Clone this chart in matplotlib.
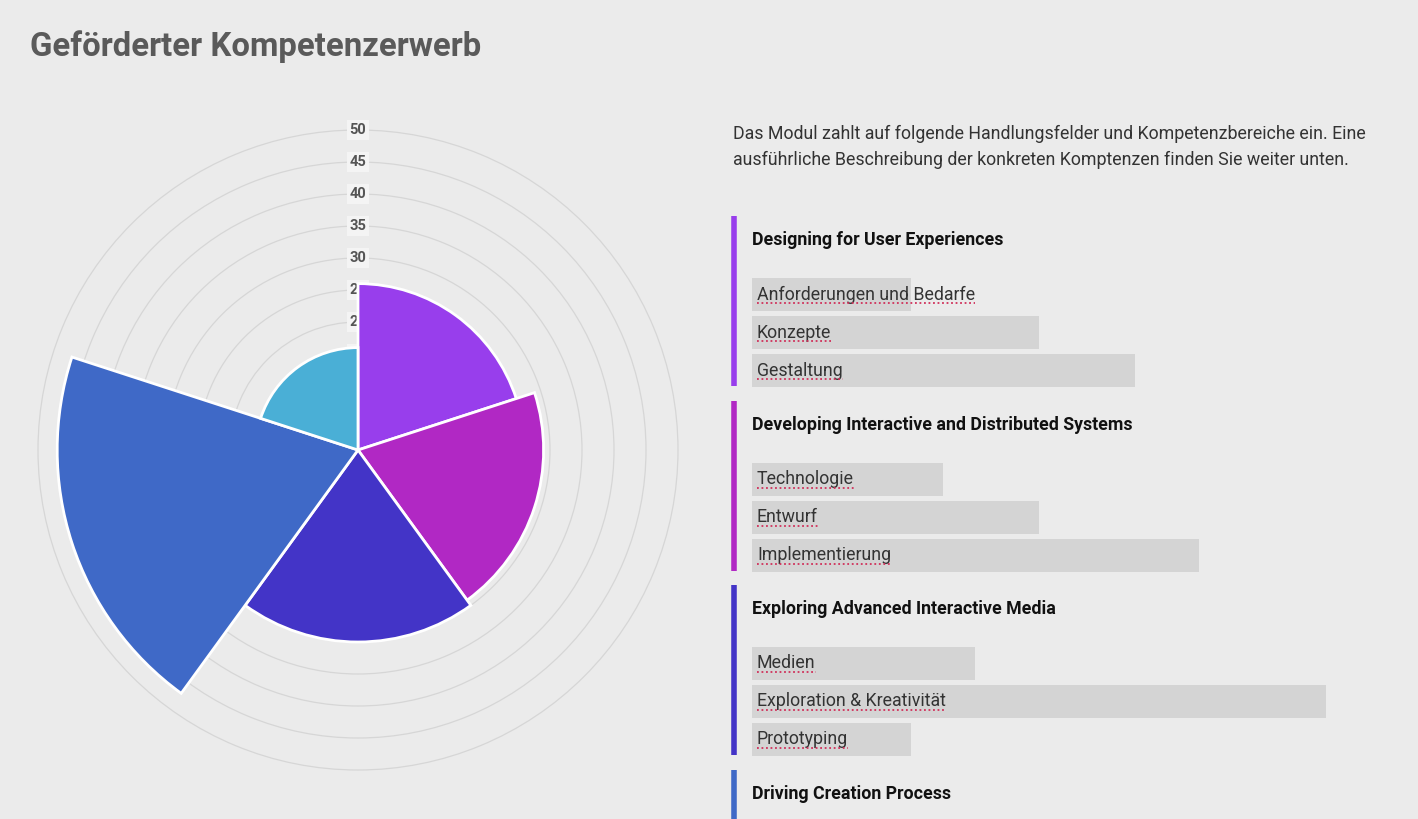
import numpy as np
import matplotlib.pyplot as plt
from matplotlib.lines import Line2D

W, H = 1418, 819
BG = '#ebebeb'

# polar area values (one per Handlungsfeld, clockwise from top)
field_values = [26, 29, 30, 47, 16]
field_colors = ['#983eec', '#b128c4', '#4334c7', '#3f69c7', '#4aafd6']
ring_ticks = [5, 10, 15, 20, 25, 30, 35, 40, 45, 50]

# right panel: groups and their competences
group_titles = ['Designing for User Experiences',
                'Developing Interactive and Distributed Systems',
                'Exploring Advanced Interactive Media',
                'Driving Creation Process']
group_items = [['Anforderungen und Bedarfe', 'Konzepte', 'Gestaltung'],
               ['Technologie', 'Entwurf', 'Implementierung'],
               ['Medien', 'Exploration & Kreativität', 'Prototyping'],
               []]
group_values = [[5, 9, 12],
                [6, 9, 14],
                [7, 18, 5],
                []]

title = 'Geförderter Kompetenzerwerb'
intro = ('Das Modul zahlt auf folgende Handlungsfelder und Kompetenzbereiche ein. Eine\n'
         'ausführliche Beschreibung der konkreten Komptenzen finden Sie weiter unten.')

plt.rcParams['font.family'] = ['Roboto', 'DejaVu Sans']

fig = plt.figure(figsize=(W / 100, H / 100), dpi=100, facecolor=BG)

# --- polar area chart ---
cx, cy = 358, 450
RMAX = 50.4
R = 320 * RMAX / 50  # px radius of the axes so that 50 sits at 320 px
ax = fig.add_axes([(cx - R) / W, (H - cy - R) / H, 2 * R / W, 2 * R / H],
                  projection='polar')
ax.set_facecolor('none')
ax.set_theta_zero_location('N')
ax.set_theta_direction(-1)
n = len(field_values)
width = 2 * np.pi / n
theta = np.arange(n) * width
ax.bar(theta, field_values, width=width, align='edge', color=field_colors,
       edgecolor='white', linewidth=2, zorder=5)
ax.set_ylim(0, RMAX)
ax.set_rgrids(ring_ticks, labels=[''] * len(ring_ticks))
ax.set_thetagrids([])
ax.grid(True, color='#d6d6d6', linewidth=0.9)
ax.xaxis.grid(False)
ax.set_axisbelow(True)
ax.spines['polar'].set_visible(False)
for t in ring_ticks:
    ax.text(0, t, str(t), ha='center', va='center', fontsize=10.5,
            fontweight='bold', color='#555555', zorder=2,
            bbox=dict(boxstyle='square,pad=0.2', fc='#f4f4f4', ec='none'))

# --- title ---
fig.text(30 / W, 1 - 47 / H, title, fontsize=23.7, fontweight='bold',
         color='#5a5a5a', ha='left', va='center')

# --- intro text ---
fig.text(733 / W, 1 - 147 / H, intro, fontsize=12.8, color='#333333',
         ha='left', va='center', linespacing=1.6)

# --- right panel ---
UNIT = 31.9  # px per competence point
x0 = 752
axr = fig.add_axes([x0 / W, 0, (W - x0) / W, 1])
axr.set_xlim(0, (W - x0) / UNIT)
axr.set_ylim(H, 0)
axr.axis('off')

group_top = [216, 401, 585, 770]
row_h, row_gap = 33, 38
accent_x = (734.5 - x0) / UNIT
fig.canvas.draw()
renderer = fig.canvas.get_renderer()
for g, gtitle in enumerate(group_titles):
    top = group_top[g]
    bottom = top + 170 if group_items[g] else H + 5
    axr.add_line(Line2D([accent_x, accent_x], [top, bottom], color=field_colors[g],
                        linewidth=4, solid_capstyle='butt', clip_on=False))
    axr.text(0, top + 24, gtitle, fontsize=12.8, fontweight='bold', color='#111111',
             ha='left', va='center')
    for i, (item, val) in enumerate(zip(group_items[g], group_values[g])):
        ytop = top + 62 + i * row_gap
        axr.barh(ytop + row_h / 2, val, height=row_h, left=0, color='#d4d4d4', zorder=1)
        txt = axr.text(5 / UNIT, ytop + row_h / 2, item, fontsize=12.8, color='#333333',
                       ha='left', va='center', zorder=3)
        bb = txt.get_window_extent(renderer)
        uy = H - (ytop + row_h / 2 + 8.5)
        fig.add_artist(Line2D([bb.x0 / W, bb.x1 / W], [uy / H, uy / H],
                              color='#d0305a', linewidth=1.3, linestyle=(0, (1, 1.5))))

fig.savefig('out.png', dpi=100, facecolor=BG)
